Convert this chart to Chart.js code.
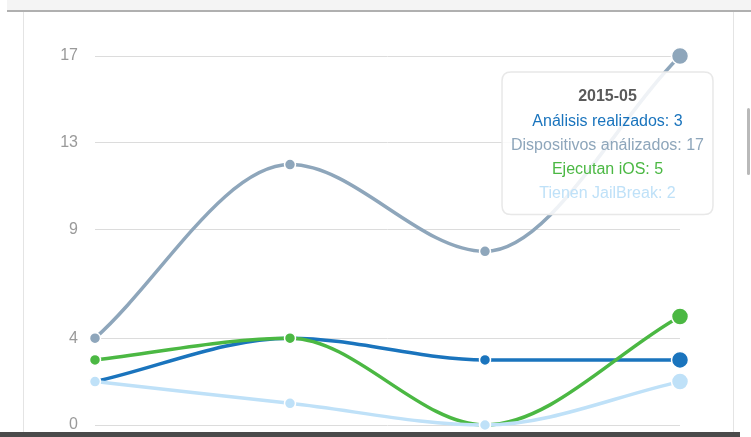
<!DOCTYPE html>
<html>
<head>
<meta charset="utf-8">
<script src="https://cdn.jsdelivr.net/npm/chart.js@4/dist/chart.umd.min.js"></script>
<style>
    body { margin: 0; background: #fff; }
    #wrap { position: relative; width: 751px; height: 437px; overflow: hidden; }
    #chart { position: absolute; left: 0; top: 0; }
    .topbar { position: absolute; left: 7px; top: 0; width: 744px; height: 10px; background: #f4f4f4; border-bottom: 2px solid #b0b0b0; }
    .vline { position: absolute; top: 12px; bottom: 0; width: 1px; background: #e4e4e4; }
    .scroll { position: absolute; left: 747px; top: 108px; width: 3px; height: 67px; background: #b9b9b9; border-radius: 2px; }
    .bottom { position: absolute; left: 0; top: 432px; width: 740px; height: 5px; background: #4a4a4a; }
</style>
</head>
<body>
<div id="wrap">
    <div class="topbar"></div>
    <div class="vline" style="left:23px"></div>
    <div class="vline" style="left:733px"></div>
    <canvas id="chart" width="751" height="437"></canvas>
    <div class="scroll"></div>
    <div class="bottom"></div>
</div>
<script>
// Chart data
const months = ['2015-02', '2015-03', '2015-04', '2015-05'];
const yTicks = [0, 4, 9, 13, 17];

const analisis = [2, 4, 3, 3];
const dispositivos = [4, 12, 8, 17];
const ios = [3, 4, 0, 5];
const jailbreak = [2, 1, 0, 2];

const seriesNames = ['Análisis realizados', 'Dispositivos análizados', 'Ejecutan iOS', 'Tienen JailBreak'];
const seriesColors = ['#1a74bd', '#8ea6bb', '#4bb843', '#bfe1f8'];
const seriesData = [analisis, dispositivos, ios, jailbreak];

// Tooltip sits just under the topmost hovered point, pulled left into the plot
Chart.Tooltip.positioners.card = function(items) {
    if (!items.length) return false;
    const area = this.chart.chartArea;
    const topY = Math.min(...items.map(it => it.element.y));
    return { x: area.right - 72.5, y: topY + 16 };
};

function makeDataset(i) {
    const c = seriesColors[i];
    return {
        label: seriesNames[i],
        data: seriesData[i],
        borderColor: c,
        backgroundColor: c,
        pointBackgroundColor: c,
        pointHoverBackgroundColor: c,
        pointBorderColor: '#fff',
        pointBorderWidth: 1.5,
        pointRadius: 5.5,
        pointHoverRadius: 8.5,
        pointHoverBorderWidth: 1.5,
        pointHoverBorderColor: '#fff',
        borderWidth: 3.5,
        cubicInterpolationMode: 'monotone',
        clip: false,
        fill: false
    };
}

const ctx = document.getElementById('chart');
const chart = new Chart(ctx, {
    type: 'line',
    data: {
        labels: months,
        // draw order: light lines first, darker on top
        datasets: [makeDataset(3), makeDataset(1), makeDataset(2), makeDataset(0)]
    },
    options: {
        responsive: false,
        animation: false,
        events: [],
        layout: { autoPadding: false, padding: { left: 0, right: 71, top: 56, bottom: 12 } },
        scales: {
            x: { display: false },
            y: {
                min: 0,
                max: 17,
                afterFit: function(scale) {
                    scale.width = 95;
                    scale.paddingTop = 0;
                    scale.paddingBottom = 0;
                },
                afterBuildTicks: function(scale) {
                    scale.ticks = yTicks.map(v => ({ value: v }));
                },
                border: { display: false },
                grid: { color: '#dcdcdc', lineWidth: 1, drawTicks: false },
                ticks: {
                    padding: 17,
                    color: '#9a9a9a',
                    font: { family: 'Liberation Sans', size: 16 }
                }
            }
        },
        plugins: {
            legend: { display: false },
            tooltip: {
                enabled: true,
                mode: 'index',
                intersect: false,
                position: 'card',
                xAlign: 'center',
                yAlign: 'top',
                caretSize: 0,
                caretPadding: 0,
                backgroundColor: 'rgba(255,255,255,0.86)',
                borderColor: '#e8e8e8',
                borderWidth: 1.5,
                cornerRadius: 9,
                displayColors: false,
                titleAlign: 'center',
                bodyAlign: 'center',
                titleColor: '#5a5a5a',
                titleFont: { family: 'Liberation Sans', size: 16, weight: 'bold' },
                bodyFont: { family: 'Liberation Sans', size: 16 },
                titleMarginBottom: 6,
                bodySpacing: 4.8,
                padding: { top: 15, bottom: 11, left: 9, right: 9 },
                itemSort: function(a, b) {
                    return seriesNames.indexOf(a.dataset.label) - seriesNames.indexOf(b.dataset.label);
                },
                callbacks: {
                    label: function(item) {
                        return item.dataset.label + ': ' + item.parsed.y;
                    },
                    labelTextColor: function(item) {
                        return item.dataset.borderColor;
                    }
                }
            }
        }
    }
});

// Show the last month as hovered, like the screenshot
const last = months.length - 1;
const active = chart.data.datasets.map((d, i) => ({ datasetIndex: i, index: last }));
chart.setActiveElements(active);
chart.tooltip.setActiveElements(active, { x: 680, y: 56 });
chart.update();
</script>
</body>
</html>
